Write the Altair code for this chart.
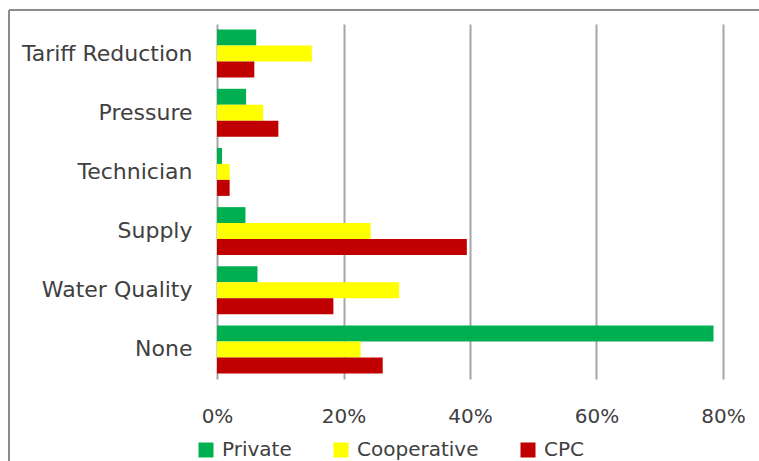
import altair as alt
import pandas as pd

# Share of respondents naming each improvement, by provider type (percent)
categories = ["Tariff Reduction", "Pressure", "Technician", "Supply", "Water Quality", "None"]
series = ["Private", "Cooperative", "CPC"]
private = [6.2, 4.6, 0.8, 4.5, 6.4, 78.5]
cooperative = [15.0, 7.3, 2.0, 24.3, 28.8, 22.7]
cpc = [5.9, 9.7, 2.0, 39.5, 18.4, 26.2]
colors = ["#00b050", "#ffff00", "#c00000"]
tick_values = [0, 0.2, 0.4, 0.6, 0.8]

rows = []
for name, vals in zip(series, [private, cooperative, cpc]):
    for cat, v in zip(categories, vals):
        rows.append({"category": cat, "provider": name, "share": v / 100})
df = pd.DataFrame(rows)

FONT = "DejaVu Sans"
TEXT = "#404040"

bars = alt.Chart(df).mark_bar().encode(
    y=alt.Y(
        "category:N",
        sort=categories,
        title=None,
        scale=alt.Scale(paddingInner=0.19, paddingOuter=0.095),
        axis=alt.Axis(
            labelFont=FONT, labelFontSize=22, labelColor=TEXT,
            labelPadding=25, ticks=False, domain=False, grid=False,
        ),
    ),
    yOffset=alt.YOffset("provider:N", sort=series),
    x=alt.X(
        "share:Q",
        title=None,
        scale=alt.Scale(domain=[0, 0.8], nice=False),
        axis=alt.Axis(
            values=tick_values, format=".0%", labelFlush=False,
            labelFont=FONT, labelFontSize=20, labelColor=TEXT,
            labelPadding=27, ticks=False, domain=False,
            grid=True, gridColor="#a6a6a6", gridWidth=2,
        ),
    ),
    color=alt.Color(
        "provider:N",
        sort=series,
        scale=alt.Scale(domain=series, range=colors),
        legend=alt.Legend(
            title=None, orient="none", direction="horizontal",
            legendX=-21, legendY=416, padding=0,
            symbolType="square", symbolSize=225, symbolStrokeWidth=0,
            labelFont=FONT, labelFontSize=20, labelColor=TEXT,
            labelOffset=6, columnPadding=39,
        ),
    ),
)

# Outer frame around the whole figure
edge = alt.Data(values=[{}])
frame_top = alt.Chart(edge).mark_rule(color="#8c8c8c", strokeWidth=2).encode(
    x=alt.value(-208), x2=alt.value(560), y=alt.value(-14)
)
frame_left = alt.Chart(edge).mark_rule(color="#8c8c8c", strokeWidth=2).encode(
    x=alt.value(-208), y=alt.value(-14), y2=alt.value(460)
)

chart = alt.layer(bars, frame_top, frame_left).properties(
    width=506,
    height=355,
    autosize=alt.AutoSizeParams(type="none"),
    padding={"left": 217, "top": 24, "right": 36, "bottom": 82},
    background="white",
).configure_view(stroke=None)

chart.save("out.html", embed_options={"renderer": "svg", "actions": False})
